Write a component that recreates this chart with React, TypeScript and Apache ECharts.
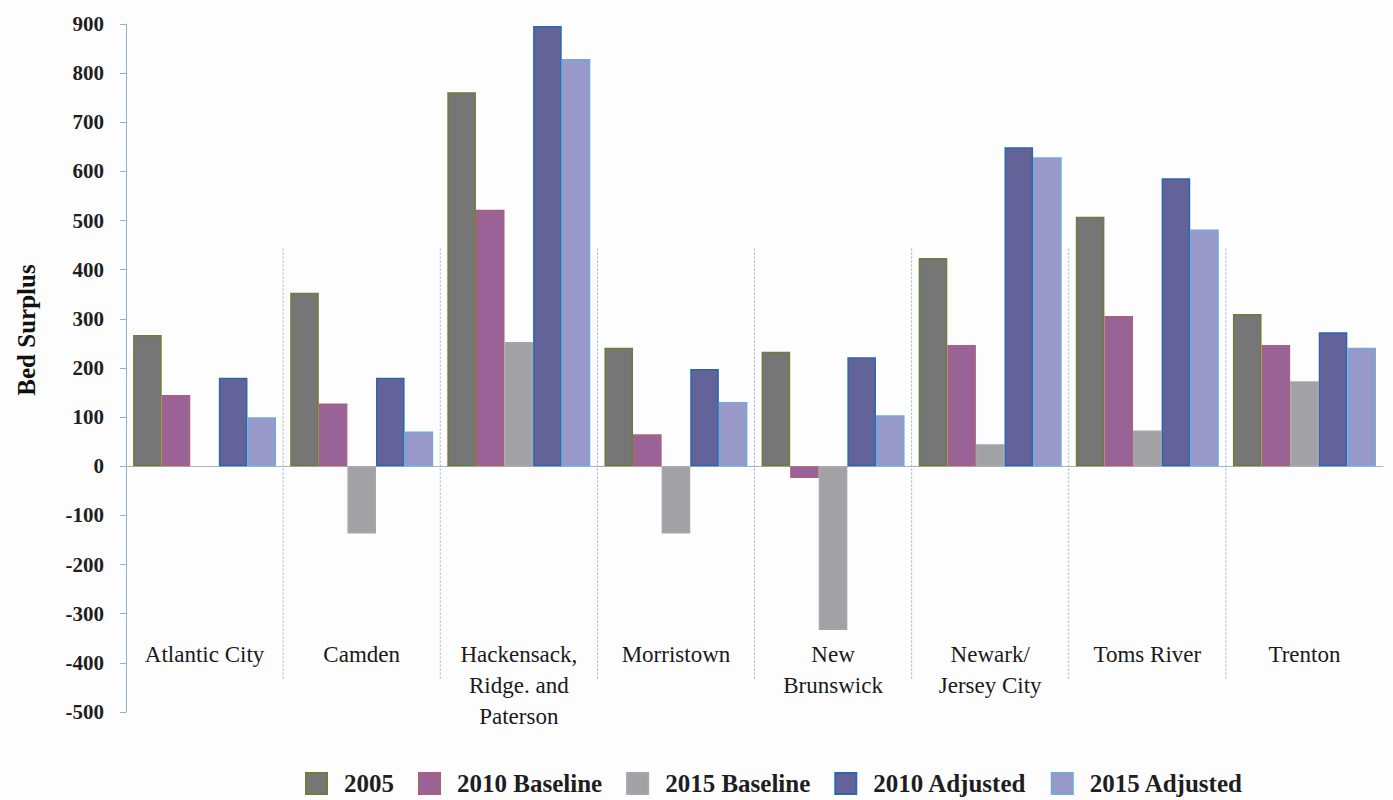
import React, { useEffect, useRef } from "react";
import * as echarts from "echarts";

const categories = [
  "Atlantic City",
  "Camden",
  "Hackensack,\nRidge. and\nPaterson",
  "Morristown",
  "New\nBrunswick",
  "Newark/\nJersey City",
  "Toms River",
  "Trenton",
];
const seriesNames = ["2005", "2010 Baseline", "2015 Baseline", "2010 Adjusted", "2015 Adjusted"];
const v2005 = [267, 353, 761, 241, 233, 424, 508, 310];
const v2010Baseline = [145, 128, 522, 65, -24, 247, 306, 247];
const v2015Baseline = [null, -137, 253, -137, -333, 45, 73, 173];
const v2010Adjusted = [180, 180, 896, 198, 222, 649, 586, 273];
const v2015Adjusted = [100, 71, 829, 131, 104, 629, 482, 241];
const yTicks = { min: -500, max: 900, interval: 100 };
const separatorRange = [443, -433];

const fills = ["#767676", "#9a6398", "#a2a2a6", "#63639a", "#9898c9"];
const borders = ["#6d7d3c", "#a86275", "#a6a6aa", "#2a67ad", "#74a7dc"];

export default function App() {
  const ref = useRef<HTMLDivElement>(null);
  useEffect(() => {
    document.body.style.margin = "0";
    const chart = echarts.init(ref.current!, null, { renderer: "svg" });
    const values = [v2005, v2010Baseline, v2015Baseline, v2010Adjusted, v2015Adjusted];
    const serif = "'Liberation Serif', 'DejaVu Serif', serif";
    chart.setOption({
      animation: false,
      backgroundColor: "#fdfdfe",
      grid: { left: 126, right: 10, top: 24, bottom: 88, outerBoundsMode: "none", containLabel: false },
      legend: {
        data: seriesNames,
        left: 305,
        top: 771,
        padding: 0,
        itemWidth: 21,
        itemHeight: 21,
        itemGap: 24,
        icon: "rect",
        textStyle: {
          fontFamily: serif,
          fontWeight: "bold",
          fontSize: 25,
          lineHeight: 22,
          color: "#1e1e1e",
          padding: [0, 0, 0, 12],
        },
      },
      graphic: [
        {
          type: "text",
          x: 26,
          y: 330,
          rotation: Math.PI / 2,
          style: {
            text: "Bed Surplus",
            fontFamily: serif,
            fontWeight: "bold",
            fontSize: 25,
            fill: "#111",
            align: "center",
            verticalAlign: "middle",
          },
        },
      ],
      xAxis: {
        type: "category",
        data: categories,
        axisLine: { onZero: true, lineStyle: { color: "#a9b4bd", width: 1 } },
        axisTick: { show: false },
        axisLabel: {
          margin: -73,
          fontFamily: serif,
          fontSize: 23,
          lineHeight: 31,
          color: "#1a1a1a",
          interval: 0,
          verticalAlign: "top",
        },
      },
      yAxis: {
        type: "value",
        min: yTicks.min,
        max: yTicks.max,
        interval: yTicks.interval,
        axisLine: { show: true, lineStyle: { color: "#8fb2c9" } },
        axisTick: { show: true, length: 6, lineStyle: { color: "#8fb2c9" } },
        splitLine: { show: false },
        axisLabel: {
          fontFamily: serif,
          fontWeight: "bold",
          fontSize: 21,
          color: "#1e1e1e",
          margin: 22,
        },
      },
      series: [
        ...values.map((vals, i) => ({
          name: seriesNames[i],
          type: "bar",
          data: vals,
          barGap: "0%",
          barCategoryGap: "9%",
          itemStyle: { color: fills[i], borderColor: borders[i], borderWidth: 1.5 },
        })),
        {
          type: "custom",
          name: "sep",
          silent: true,
          data: categories.slice(1).map((c) => [c]),
          encode: { x: 0 },
          renderItem: (params: any, api: any) => {
            const i = params.dataIndex + 1;
            const w = api.size([1, 0])[0];
            const x = api.coord([i, 0])[0] - w / 2;
            const y1 = api.coord([i, separatorRange[0]])[1];
            const y2 = api.coord([i, separatorRange[1]])[1];
            return {
              type: "line",
              shape: { x1: x, y1, x2: x, y2 },
              style: { stroke: "#8fb2c9", lineWidth: 1, lineDash: [2, 2] },
            };
          },
        },
      ],
    });
    return () => chart.dispose();
  }, []);
  return <div ref={ref} style={{ width: 1393, height: 800 }} />;
}
